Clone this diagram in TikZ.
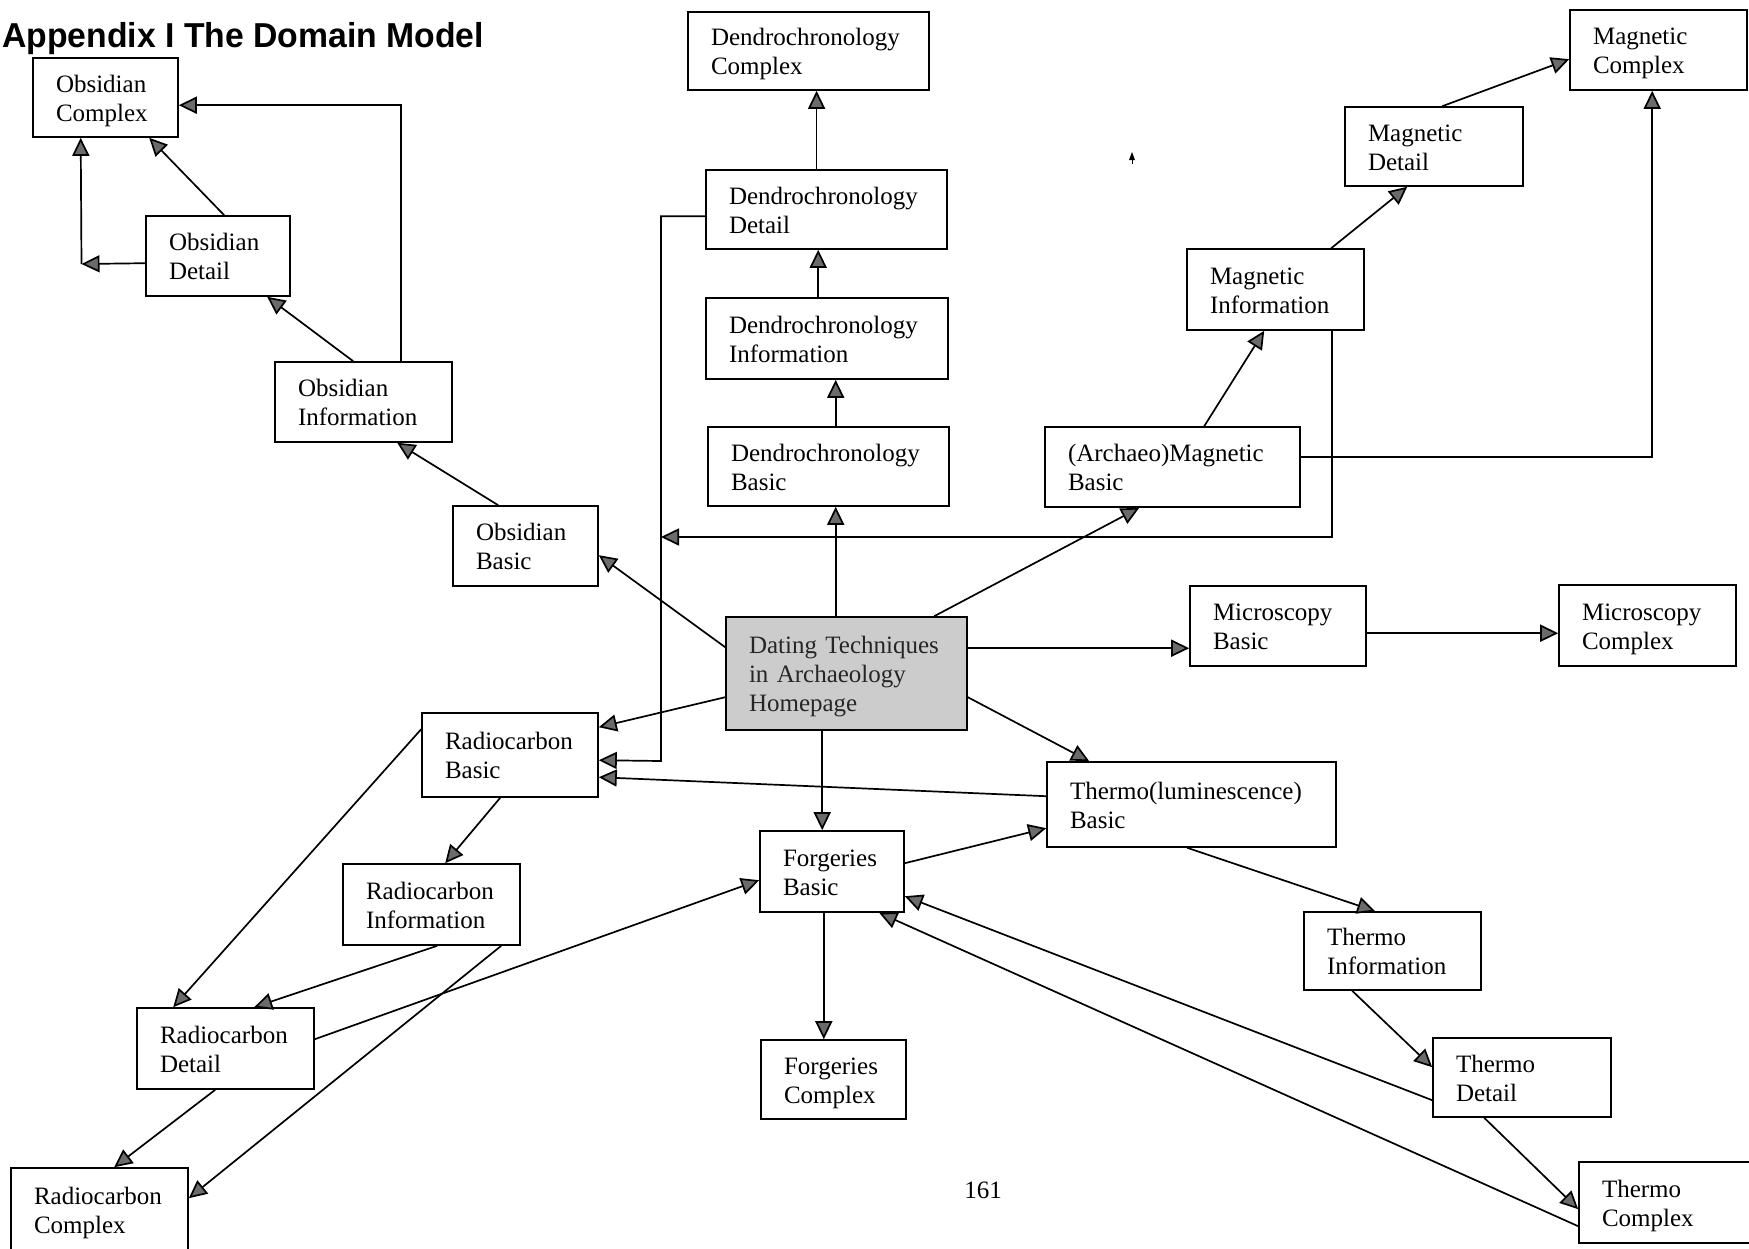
\documentclass[tikz,border=0pt]{standalone}
\usepackage{fontspec}
\setmainfont{Liberation Serif}
\newfontfamily\headfont{Liberation Sans}
\usetikzlibrary{arrows.meta,calc}

% fixed-height line strut so every text line advances exactly one baselineskip
\newcommand{\lstrut}{\rule[-2.75pt]{0pt}{14.5pt}}

% \dbox[style]{name}{x1}{y1}{x2}{y2}{text}: a page box given by its corners
\newcommand{\dbox}[7][]{%
  \pgfmathsetmacro{\bxw}{(#5-#3)*0.5}%
  \pgfmathsetmacro{\bxh}{(#6-#4)*0.5}%
  \pgfmathsetmacro{\bxt}{(#5-#3-46)*0.5}%
  \node[box,#1,minimum width=\bxw pt,minimum height=\bxh pt,text width=\bxt pt]
    (#2) at ({(#3+#5)/2},{(#4+#6)/2}) {#7};%
}

\tikzset{
  box/.style={draw, line width=0.8pt, fill=white, inner sep=0pt, align=left,
    font=\fontsize{12.5pt}{14.5pt}\selectfont},
  conn/.style={draw, line width=0.85pt,
    -{Triangle[length=9pt,width=8.5pt,fill=black!58]}},
}

\begin{document}
\begin{tikzpicture}[x=0.5pt,y=-0.5pt]
\path[use as bounding box, fill=white] (0,0) rectangle (1749,1248);

% heading and page number
\node[anchor=base west, inner sep=0pt, transform shape, xscale=0.975,
      font=\headfont\bfseries\fontsize{17.3pt}{20pt}\selectfont]
  (title) at (2,47) {Appendix I The Domain Model};
\node[anchor=base, inner sep=0pt, font=\fontsize{12.5pt}{14.5pt}\selectfont]
  (pnum) at (983,1198) {161};

% Obsidian
\dbox{ocx}{33}{58}{178}{137}{Obsidian\lstrut\\Complex\lstrut}
\dbox{odt}{146}{216}{290}{296}{Obsidian\lstrut\\Detail\lstrut}
\dbox{oin}{275}{362}{452}{442}{Obsidian\lstrut\\Information\lstrut}
\dbox{oba}{453}{506}{598}{586}{Obsidian\lstrut\\Basic\lstrut}

% Dendrochronology
\dbox{dcx}{688}{12}{929}{90}{Dendrochronology\lstrut\\Complex\lstrut}
\dbox{ddt}{706}{170}{947}{249}{Dendrochronology\lstrut\\Detail\lstrut}
\dbox{din}{706}{298}{948}{379}{Dendrochronology\lstrut\\Information\lstrut}
\dbox{dba}{708}{427}{949}{506}{Dendrochronology\lstrut\\Basic\lstrut}

% Magnetic
\dbox{mba}{1045}{427}{1300}{507}{(Archaeo)Magnetic\lstrut\\Basic\lstrut}
\dbox{min}{1187}{249}{1364}{330}{Magnetic\lstrut\\Information\lstrut}
\dbox{mdt}{1345}{107}{1523}{186}{Magnetic\lstrut\\Detail\lstrut}
\dbox{mcx}{1570}{10}{1747}{90}{Magnetic\lstrut\\Complex\lstrut}

% home page
\dbox[fill=black!20, text=black!85]{home}{726}{617}{967}{730}{Dating Techniques\lstrut\\in Archaeology\lstrut\\Homepage\lstrut}

% Microscopy
\dbox{sba}{1190}{586}{1366}{666}{Microscopy\lstrut\\Basic\lstrut}
\dbox{scx}{1559}{585}{1736}{666}{Microscopy\lstrut\\Complex\lstrut}

% Thermoluminescence
\dbox{tba}{1047}{762}{1336}{847}{Thermo(luminescence)\lstrut\\Basic\lstrut}
\dbox{tin}{1304}{912}{1481}{990}{Thermo\lstrut\\Information\lstrut}
\dbox{tdt}{1433}{1038}{1611}{1117}{Thermo\lstrut\\Detail\lstrut}
\dbox{tcx}{1579}{1162}{1756}{1243}{Thermo\lstrut\\Complex\lstrut}

% Radiocarbon
\dbox{rba}{422}{713}{598}{797}{Radiocarbon\lstrut\\Basic\lstrut}
\dbox{rin}{343}{864}{520}{945}{Radiocarbon\lstrut\\Information\lstrut}
\dbox{rdt}{137}{1008}{314}{1089}{Radiocarbon\lstrut\\Detail\lstrut}
\dbox{rcx}{11}{1168}{188}{1251}{Radiocarbon\lstrut\\Complex\lstrut}

% Forgeries
\dbox{fba}{760}{831}{904}{912}{Forgeries\lstrut\\Basic\lstrut}
\dbox{fcx}{761}{1040}{906}{1119}{Forgeries\lstrut\\Complex\lstrut}

% bend points of the routed connectors
\coordinate (j0) at (81.5,264);
\coordinate (j1) at (661,537);
\coordinate (j2) at (661,761);

% Obsidian links
\draw[conn] ($(odt.north west)+(79,0)$) -- ($(ocx.south west)+(117,0)$);
\draw[conn] ($(odt.north west)+(0,48)$) -- (j0);
\draw[conn] (j0) -- ($(ocx.south west)+(48.5,0)$);
\draw[conn] ($(oin.north west)+(79,0)$) -- ($(odt.south west)+(122,0)$);
\draw[conn] ($(oin.north west)+(127,0)$) |- ($(ocx.north east)+(0,48)$);
\draw[conn] ($(oba.north west)+(46,0)$) -- ($(oin.south west)+(123,0)$);

% links from the home page
\draw[conn] ($(home.north west)+(0,31)$) -- ($(oba.north east)+(0,50)$);
\draw[conn] ($(home.north west)+(110.5,0)$) -- ($(dba.south west)+(128.5,0)$);
\draw[conn] ($(home.north west)+(209,0)$) -- ($(mba.south west)+(95,0)$);
\draw[conn] ($(home.north west)+(0,81)$) -- ($(rba.north east)+(0,15)$);
\draw[conn] ($(home.south west)+(97,0)$) -- ($(fba.north west)+(63,0)$);
\draw[conn] ($(home.north east)+(0,81)$) -- ($(tba.north west)+(43,0)$);
\draw[conn] ($(home.north east)+(0,32)$) -- ($(sba.north west)+(0,63)$);

% Dendrochronology links
\draw[conn] ($(dba.north west)+(128.5,0)$) -- ($(din.south west)+(130.5,0)$);
\draw[conn] ($(din.north west)+(113,0)$) -- ($(ddt.south west)+(113,0)$);
\draw[conn] ($(ddt.north west)+(111.4,0)$) -- ($(dcx.south west)+(129.4,0)$);
\draw[conn] ($(ddt.north west)+(0,47)$) -| (j2) -- ($(rba.north east)+(0,48)$);

% Magnetic links
\draw[conn] ($(mba.north west)+(160,0)$) -- ($(min.south west)+(78,0)$);
\draw[conn] ($(min.south west)+(145.5,0)$) |- (j1);
\draw[conn] ($(min.north west)+(145,0)$) -- ($(mdt.south west)+(63,0)$);
\draw[conn] ($(mdt.north west)+(98,0)$) -- ($(mcx.north west)+(0,50)$);
\draw[conn] ($(mba.north east)+(0,31)$) -| ($(mcx.south west)+(83,0)$);

% Microscopy link
\draw[conn] ($(sba.north east)+(0,48)$) -- ($(scx.north west)+(0,49)$);

% Thermoluminescence links
\draw[conn] ($(tba.north west)+(0,35)$) -- ($(rba.north east)+(0,65)$);
\draw[conn] ($(tba.south west)+(141,0)$) -- ($(tin.north west)+(72,0)$);
\draw[conn] ($(tin.south west)+(49,0)$) -- ($(tdt.north west)+(0,30)$);
\draw[conn] ($(tdt.south west)+(52,0)$) -- ($(tcx.north west)+(0,48)$);
\draw[conn] ($(tdt.north west)+(0,63)$) -- ($(fba.north east)+(0,66)$);
\draw[conn] ($(tcx.north west)+(0,65)$) -- ($(fba.south west)+(120,0)$);

% Radiocarbon links
\draw[conn] ($(rba.north west)+(0,17)$) -- ($(rdt.north west)+(37,0)$);
\draw[conn] ($(rba.south west)+(79,0)$) -- ($(rin.north west)+(103,0)$);
\draw[conn] ($(rin.south west)+(95,0)$) -- ($(rdt.north west)+(118,0)$);
\draw[conn] ($(rin.south west)+(159,0)$) -- ($(rcx.north east)+(0,31)$);
\draw[conn] ($(rdt.south west)+(79,0)$) -- ($(rcx.north west)+(104,0)$);
\draw[conn] ($(rdt.north east)+(0,32)$) -- ($(fba.north west)+(0,50)$);

% Forgeries links
\draw[conn] ($(fba.south west)+(64.6,0)$) -- ($(fcx.north west)+(63.6,0)$);
\draw[conn] ($(fba.north east)+(0,33)$) -- ($(tba.north west)+(0,67)$);

% small stray mark
\fill (1129,160) -- (1135,160) -- (1132,152) -- cycle;
\draw[line width=0.5pt] (1132,158) -- (1132,164);
\end{tikzpicture}
\end{document}
